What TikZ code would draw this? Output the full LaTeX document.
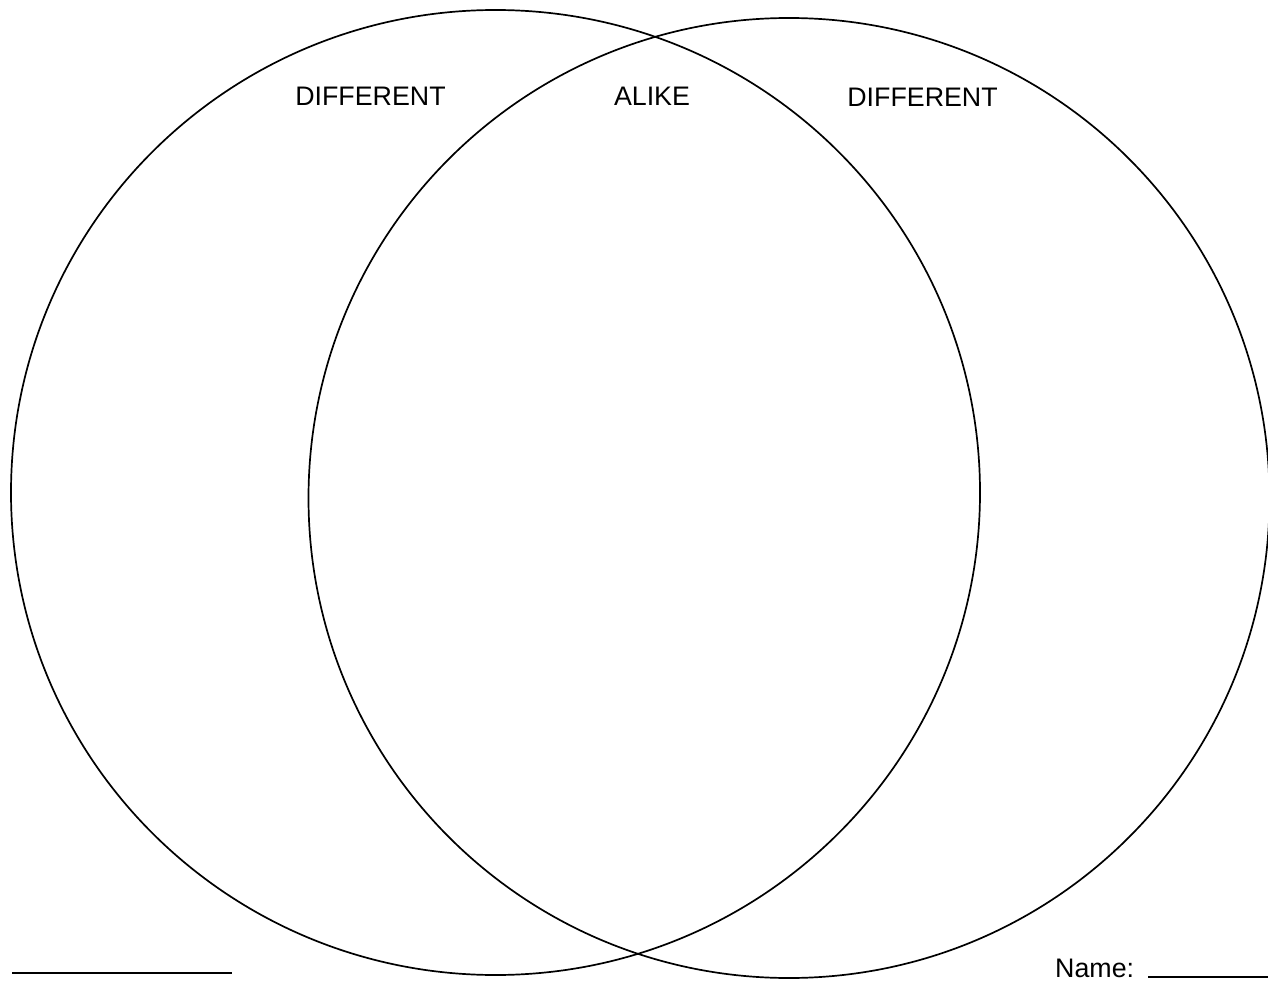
\documentclass[tikz,border=0pt]{standalone}
\usepackage{fontspec}
\setmainfont{Liberation Sans}
\begin{document}
\begin{tikzpicture}[x=1pt,y=-1pt,
  ring/.style={draw=black,line width=1.7pt},
  lbl/.style={inner sep=0pt,anchor=base,font=\fontsize{26.8}{30}\selectfont},
  rule/.style={draw=black,line width=1.8pt}]
\useasboundingbox (0,0) rectangle (1268,981);
\draw[ring] (495.5,492.5) ellipse [x radius=484.5, y radius=482.5];
\draw[ring] (789,498) ellipse [x radius=480.5, y radius=480];
\node[lbl] (d1) at (370.5,106) {DIFFERENT};
\node[lbl] (al) at (652,106) {ALIKE};
\node[lbl] (d2) at (922.5,107) {DIFFERENT};
\node[lbl,anchor=base west] (nm) at (1055,977) {Name:};
\coordinate (l1a) at (12,973);
\coordinate (l1b) at (232,973);
\coordinate (l2a) at (1148,977);
\coordinate (l2b) at (1268,977);
\draw[rule] (l1a) -- (l1b);
\draw[rule] (l2a) -- (l2b);
\end{tikzpicture}
\end{document}
